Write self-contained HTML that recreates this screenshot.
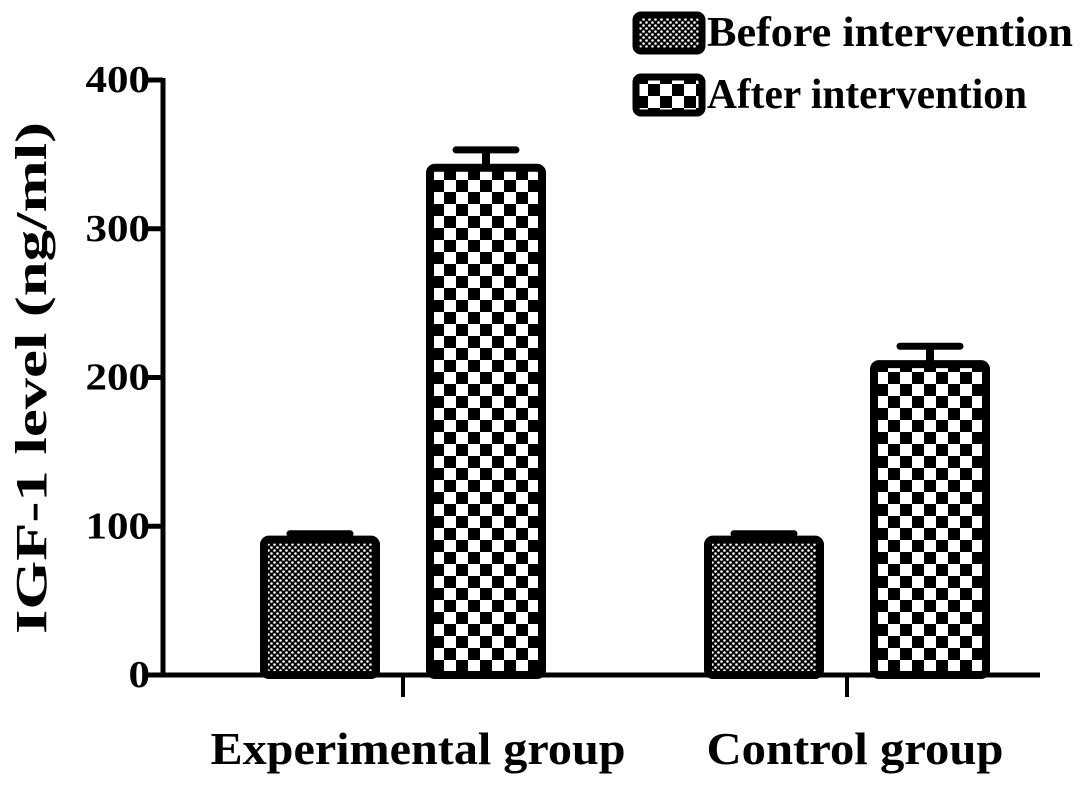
<!DOCTYPE html>
<html><head><meta charset="utf-8"><style>
html,body{margin:0;padding:0;background:#fff;}
svg{display:block;font-family:"Liberation Serif",serif;font-weight:bold;}
</style></head><body>
<svg id="chart" width="1087" height="785" viewBox="0 0 1087 785" xmlns="http://www.w3.org/2000/svg">
<defs>
<pattern id="dots" width="6" height="6" patternUnits="userSpaceOnUse">
<rect width="6" height="6" fill="#000"/>
<circle cx="1.5" cy="1.5" r="1.3" fill="#fff"/>
<circle cx="4.5" cy="4.5" r="1.3" fill="#fff"/>
</pattern>
<pattern id="checks" width="24" height="24" patternUnits="userSpaceOnUse">
<rect width="24" height="24" fill="#000"/>
<rect x="0" y="0" width="12" height="12" fill="#fff"/>
<rect x="12" y="12" width="12" height="12" fill="#fff"/>
</pattern>
</defs>
<g id="bars"></g>
<g id="axes"></g>
</svg>
<script>
const categories = ["Experimental group", "Control group"];
const beforeValues = [91, 91];
const afterValues = [341, 209];
const beforeErrors = [4, 4];
const afterErrors = [12, 12];
const yTicks = [0, 100, 200, 300, 400];

const NS = "http://www.w3.org/2000/svg";
const svg = document.getElementById("chart");
const barsG = document.getElementById("bars");
const axesG = document.getElementById("axes");
const y0 = 675, yTop = 80, yMax = 400;
const yScale = v => y0 - v / yMax * (y0 - yTop);
const groupCenter = i => 403 + i * 444;
const xLabelWidths = [415, 297];
function mk(tag, attrs, parent) {
  const e = document.createElementNS(NS, tag);
  for (const k in attrs) e.setAttribute(k, attrs[k]);
  (parent || svg).appendChild(e);
  return e;
}
function drawBar(cx, v, err, fill, name) {
  const w = 112, x = cx - w / 2, yv = yScale(v);
  const ye = yScale(v + err);
  const eline = mk("line", {x1: cx, x2: cx, y1: ye, y2: yv, stroke: "#000", "stroke-width": 8}, barsG);
  
  
  const cap = mk("line", {x1: cx - 30, x2: cx + 30, y1: ye, y2: ye, stroke: "#000", "stroke-width": 7, "stroke-linecap": "round"}, barsG);
  
  
  const r = mk("rect", {x: x, y: yv, width: w, height: y0 - yv, rx: 5, fill: fill, stroke: "#000", "stroke-width": 8}, barsG);
  
  
}
categories.forEach((c, i) => {
  const gc = groupCenter(i);
  const slug = i === 0 ? "experimental" : "control";
  drawBar(gc - 83, beforeValues[i], beforeErrors[i], "url(#dots)", "bar-" + slug + "-before");
  drawBar(gc + 83, afterValues[i], afterErrors[i], "url(#checks)", "bar-" + slug + "-after");
  const tk = mk("line", {x1: gc, x2: gc, y1: y0, y2: 697, stroke: "#000", "stroke-width": 4}, axesG);
  
  
  const t = mk("text", {x: gc + (i === 0 ? 15 : 8), y: 764, "text-anchor": "middle", "font-size": 46, textLength: xLabelWidths[i], lengthAdjust: "spacingAndGlyphs"}, axesG);
  t.textContent = c;
  
  
});
const ya = mk("line", {x1: 163, x2: 163, y1: yTop - 2, y2: y0 + 2, stroke: "#000", "stroke-width": 5}, axesG);


const xa = mk("line", {x1: 161, x2: 1040, y1: y0, y2: y0, stroke: "#000", "stroke-width": 5}, axesG);


yTicks.forEach(v => {
  const y = yScale(v);
  const l = mk("line", {x1: 148, x2: 163, y1: y, y2: y, stroke: "#000", "stroke-width": 5}, axesG);
  
  
  const s = String(v);
  const t = mk("text", {x: 150, y: y + 12, "text-anchor": "end", "font-size": 38, textLength: s.length * 21.5, lengthAdjust: "spacingAndGlyphs"}, axesG);
  t.textContent = s;
  
  
});
const yt = mk("text", {x: 0, y: 0, "text-anchor": "middle", "font-size": 44, textLength: 512, lengthAdjust: "spacingAndGlyphs", transform: "translate(46,378) rotate(-90)"}, axesG);
yt.textContent = "IGF-1 level (ng/ml)";


[["url(#dots)", "Before intervention", 12, "legend-before", 366], ["url(#checks)", "After intervention", 74, "legend-after", 320]].forEach(d => {
  const b = mk("rect", {x: 636, y: d[2] + 3, width: 66, height: 36, rx: 5, fill: d[0], stroke: "#000", "stroke-width": 7}, axesG);
  
  
  const t = mk("text", {x: 707, y: d[2] + 34, "font-size": 42, textLength: d[4], lengthAdjust: "spacingAndGlyphs"}, axesG);
  t.textContent = d[1];
  
  
});
</script>
</body></html>
